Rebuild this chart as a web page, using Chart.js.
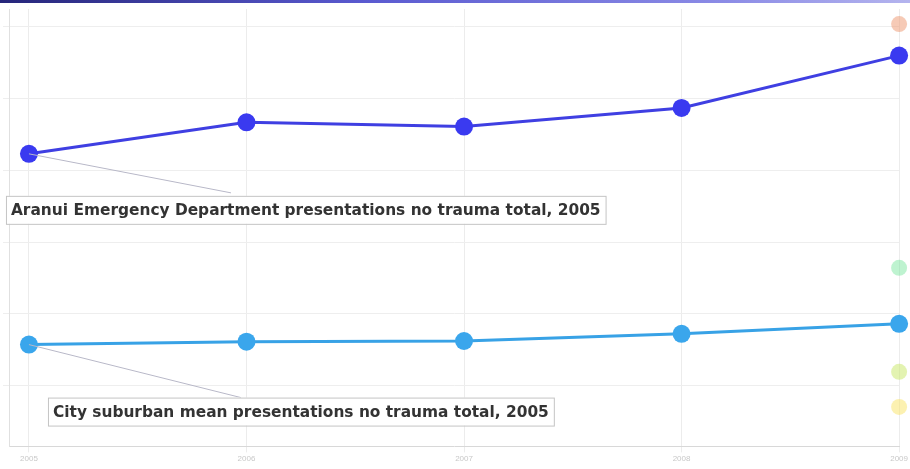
<!DOCTYPE html>
<html>
<head>
<meta charset="utf-8">
<script src="https://cdn.jsdelivr.net/npm/chart.js@4/dist/chart.umd.min.js"></script>
<style>
  body { margin: 0; background: #fff; }
  #topbar { position: absolute; left: 0; top: 0; width: 910px; height: 3px;
    background: linear-gradient(to right, #26267a, #5a5ad0 40%, #8c8ce6 80%, #b4b4ee); }
  #wrap { position: absolute; left: 0; top: 0; width: 910px; height: 469px; }
</style>
</head>
<body>
<div id="wrap"><canvas id="chart" width="910" height="469"></canvas></div>
<div id="topbar"></div>
<script>
const years = [2005, 2006, 2007, 2008, 2009];
const aranui = [423, 467, 461, 487, 560];
const suburban = [157, 161, 162, 172, 186];
// other series, only their latest value is shown (faded)
const otherLast = [604, 264, 119, 70];
const otherColors = ['rgba(238,150,110,0.5)', 'rgba(110,228,150,0.45)', 'rgba(200,232,100,0.5)', 'rgba(250,228,100,0.5)'];
const yTicks = [100, 200, 300, 400, 500, 600];

const labelNotes = [
  { ds: 0, text: 'Aranui Emergency Department presentations no trauma total, 2005', dx: -23, dy: 42, lx: 202, ly: 39 },
  { ds: 1, text: 'City suburban mean presentations no trauma total, 2005', dx: 19, dy: 53, lx: 212, ly: 53 }
];

function pts(values) {
  return values.map((v, i) => ({ x: years[i], y: v }));
}

const datasets = [
  { data: pts(aranui), borderColor: '#3f3fe2', backgroundColor: '#3a3af0', borderWidth: 3, pointRadius: 9, pointBorderWidth: 0, clip: false },
  { data: pts(suburban), borderColor: '#38a2e6', backgroundColor: '#3aa6ec', borderWidth: 3, pointRadius: 9, pointBorderWidth: 0, clip: false }
];
otherLast.forEach((v, i) => {
  datasets.push({ data: [{ x: years[years.length - 1], y: v }], backgroundColor: otherColors[i], borderColor: otherColors[i],
    showLine: false, pointRadius: 8, pointBorderWidth: 0, clip: false });
});

const notesPlugin = {
  id: 'notes',
  afterDatasetsDraw(chart) {
    const ctx = chart.ctx;
    labelNotes.forEach(n => {
      const p = chart.getDatasetMeta(n.ds).data[0];
      ctx.save();
      ctx.font = 'bold 15.4px "DejaVu Sans", sans-serif';
      const w = ctx.measureText(n.text).width + 10;
      const h = 28;
      const bx = p.x + n.dx, by = p.y + n.dy;
      ctx.strokeStyle = '#b8b8c8';
      ctx.lineWidth = 1;
      ctx.beginPath();
      ctx.moveTo(p.x, p.y);
      ctx.lineTo(p.x + n.lx, p.y + n.ly);
      ctx.stroke();
      ctx.fillStyle = '#ffffff';
      ctx.fillRect(bx, by, w, h);
      ctx.strokeStyle = '#c4c4c4';
      ctx.strokeRect(bx + 0.5, by + 0.5, w, h);
      ctx.fillStyle = '#333333';
      ctx.textBaseline = 'middle';
      ctx.fillText(n.text, bx + 5, by + h / 2 + 1);
      ctx.restore();
    });
  }
};

new Chart(document.getElementById('chart'), {
  type: 'line',
  data: { datasets: datasets },
  options: {
    responsive: false,
    animation: false,
    layout: { padding: { top: 0, left: 0, right: 0, bottom: 3 } },
    plugins: { legend: { display: false }, tooltip: { enabled: false } },
    scales: {
      x: {
        type: 'linear',
        min: 2005 - 20 / 218,
        max: 2009,
        afterBuildTicks: axis => { axis.ticks = years.map(v => ({ value: v })); },
        grid: { color: '#ececec', tickLength: 6 },
        border: { color: '#d8d8d8' },
        ticks: { color: '#c8c8c8', font: { size: 8 }, padding: 2, callback: v => String(v) }
      },
      y: {
        min: 15,
        max: 625,
        afterBuildTicks: axis => { axis.ticks = yTicks.map(v => ({ value: v })); },
        grid: { color: '#eeeeee', tickLength: 6 },
        border: { color: '#e0e0e0' },
        ticks: { display: false }
      }
    }
  },
  plugins: [notesPlugin]
});
</script>
</body>
</html>
